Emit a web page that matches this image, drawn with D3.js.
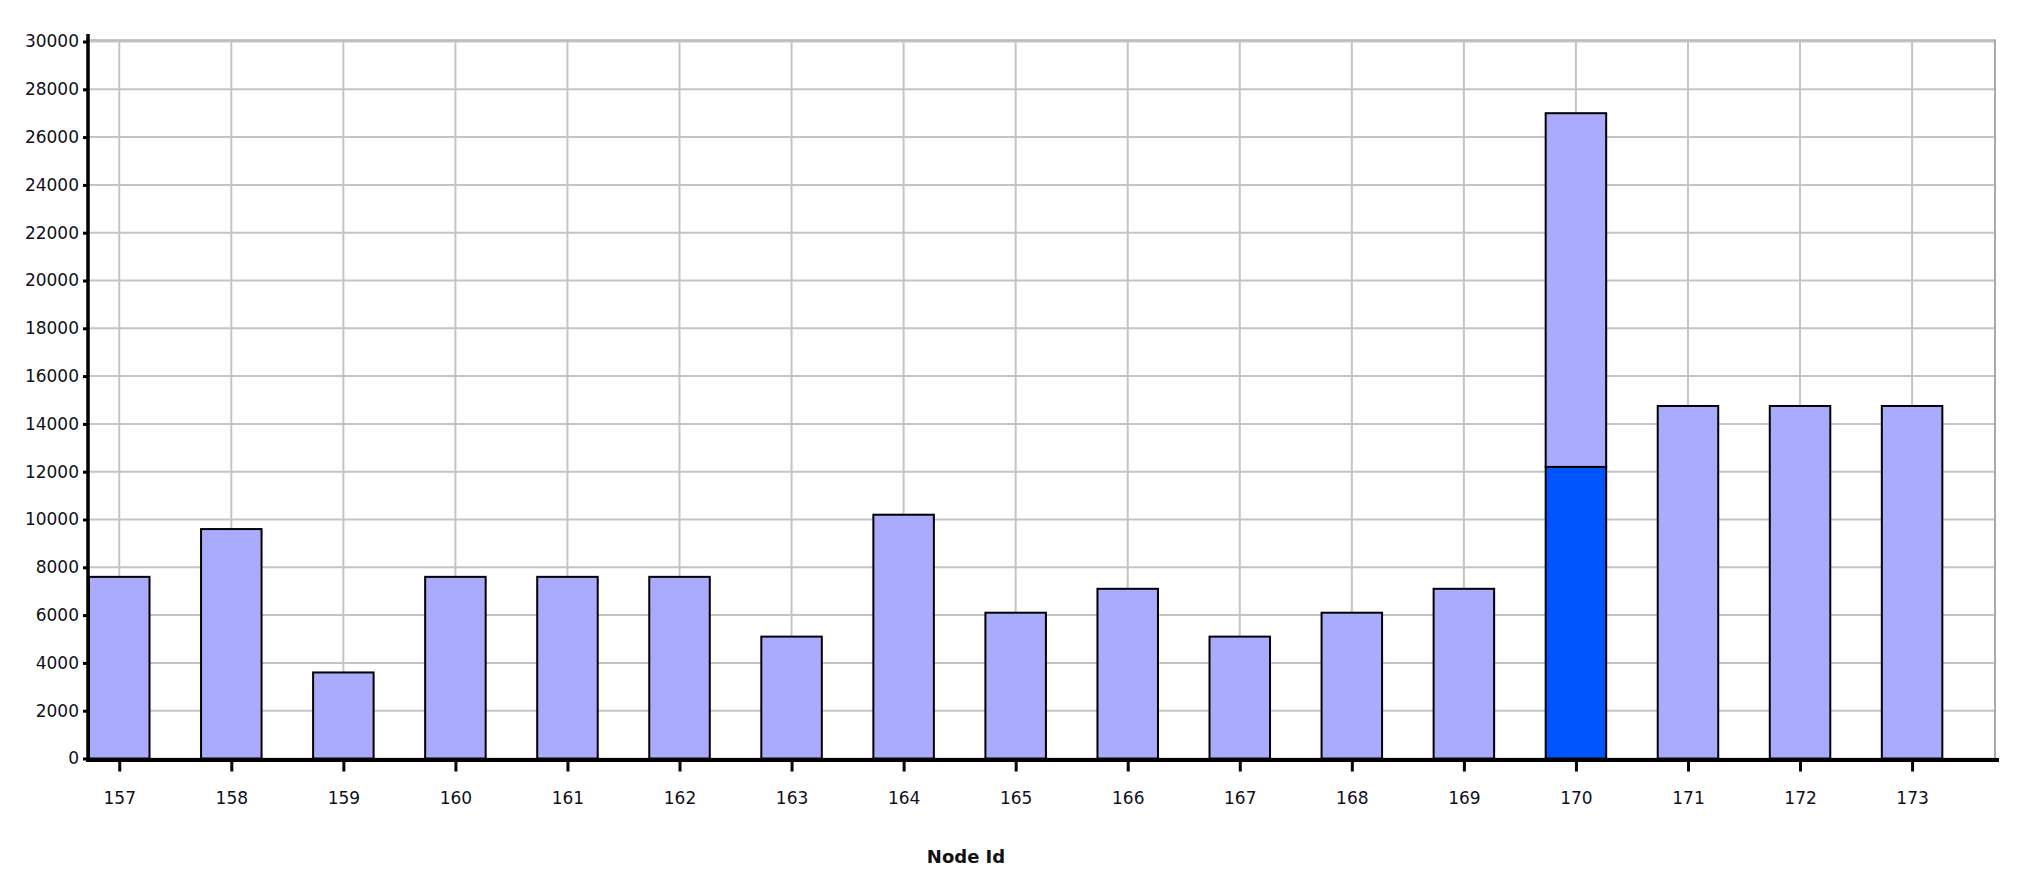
<!DOCTYPE html>
<html>
<head>
<meta charset="utf-8">
<script src="https://cdn.jsdelivr.net/npm/d3@7"></script>
<style>
  body { margin: 0; background: #fff; }
  text { font-family: "DejaVu Sans", Verdana, sans-serif; }
</style>
</head>
<body>
<svg id="chart" width="2026" height="880"></svg>
<script>
// node ids on the x axis
const nodeIds = [157, 158, 159, 160, 161, 162, 163, 164, 165, 166, 167, 168, 169, 170, 171, 172, 173];
// lower (dark blue) part of each bar
const lowerValues = [0, 0, 0, 0, 0, 0, 0, 0, 0, 0, 0, 0, 0, 12200, 0, 0, 0];
// upper (light blue) part of each bar
const upperValues = [7600, 9600, 3600, 7600, 7600, 7600, 5100, 10200, 6100, 7100, 5100, 6100, 7100, 14800, 14750, 14750, 14750];
// y tick labels
const yTicks = d3.range(0, 30001, 2000);

const svg = d3.select("#chart");
const plotLeft = 89, plotRight = 1995, plotTop = 41.5, plotBottom = 758.5;

// x is a plain linear scale on the node id
const x = d3.scaleLinear()
    .domain([156.73, 173.74])
    .range([plotLeft, plotRight]);

const y = d3.scaleLinear()
    .domain([0, 30000])
    .range([plotBottom, plotTop]);

const barW = x(157.54) - x(157);

// grid
svg.append("g")
    .selectAll("line")
    .data(yTicks)
    .enter()
    .append("line")
    .attr("x1", plotLeft)
    .attr("x2", plotRight)
    .attr("y1", d => y(d))
    .attr("y2", d => y(d))
    .attr("stroke", "#c4c4c4")
    .attr("stroke-width", 2);

svg.append("g")
    .selectAll("line")
    .data(nodeIds)
    .enter()
    .append("line")
    .attr("x1", d => x(d))
    .attr("x2", d => x(d))
    .attr("y1", plotTop)
    .attr("y2", plotBottom)
    .attr("stroke", "#c4c4c4")
    .attr("stroke-width", 2);

// top + right border of the plot
svg.append("line")
    .attr("x1", plotLeft).attr("x2", plotRight)
    .attr("y1", plotTop - 1.5).attr("y2", plotTop - 1.5)
    .attr("stroke", "#b0b0b0").attr("stroke-width", 1.5);
svg.append("line")
    .attr("x1", plotRight).attr("x2", plotRight)
    .attr("y1", plotTop - 2).attr("y2", plotBottom)
    .attr("stroke", "#aaaaaa").attr("stroke-width", 2);

// bars: lower segment then upper stacked on it
const bars = svg.append("g");
nodeIds.forEach((id, i) => {
    const lo = lowerValues[i];
    const hi = lo + upperValues[i];
    if (lo > 0) {
        bars.append("rect")
            .attr("x", x(id) - barW / 2)
            .attr("y", y(lo))
            .attr("width", barW)
            .attr("height", y(0) - y(lo))
            .attr("fill", "#0055ff")
            .attr("stroke", "#000")
            .attr("stroke-width", 2);
    }
    bars.append("rect")
        .attr("x", x(id) - barW / 2)
        .attr("y", y(hi))
        .attr("width", barW)
        .attr("height", y(lo) - y(hi))
        .attr("fill", "#aaaaff")
        .attr("stroke", "#000")
        .attr("stroke-width", 2);
});

// y axis
const yAxis = d3.axisLeft(y)
    .tickValues(yTicks)
    .tickFormat(d3.format("d"))
    .tickSize(5)
    .tickPadding(4);
const gy = svg.append("g")
    .attr("transform", `translate(${plotLeft - 1}, 0)`)
    .call(yAxis);
gy.select(".domain").remove();
gy.selectAll(".tick line").attr("stroke", "#000").attr("stroke-width", 3);
gy.selectAll(".tick text")
    .attr("fill", "#101020")
    .style("font-size", "17px");
svg.append("line")
    .attr("x1", plotLeft - 1).attr("x2", plotLeft - 1)
    .attr("y1", 34).attr("y2", plotBottom + 3)
    .attr("stroke", "#000").attr("stroke-width", 3.5);

// x axis
const xAxis = d3.axisBottom(x)
    .tickValues(nodeIds)
    .tickFormat(d3.format("d"))
    .tickSize(12)
    .tickPadding(20);
const gx = svg.append("g")
    .attr("transform", `translate(0, ${plotBottom + 1})`)
    .call(xAxis);
gx.select(".domain").remove();
gx.selectAll(".tick line").attr("stroke", "#000").attr("stroke-width", 3);
gx.selectAll(".tick text")
    .attr("fill", "#101020")
    .style("font-size", "17px");
svg.append("line")
    .attr("x1", plotLeft - 3).attr("x2", 1999)
    .attr("y1", plotBottom + 1.5).attr("y2", plotBottom + 1.5)
    .attr("stroke", "#000").attr("stroke-width", 4);

// axis title
svg.append("text")
    .attr("x", 966)
    .attr("y", 863)
    .attr("text-anchor", "middle")
    .attr("font-weight", "bold")
    .style("font-size", "18px")
    .attr("fill", "#111")
    .text("Node Id");
</script>
</body>
</html>
